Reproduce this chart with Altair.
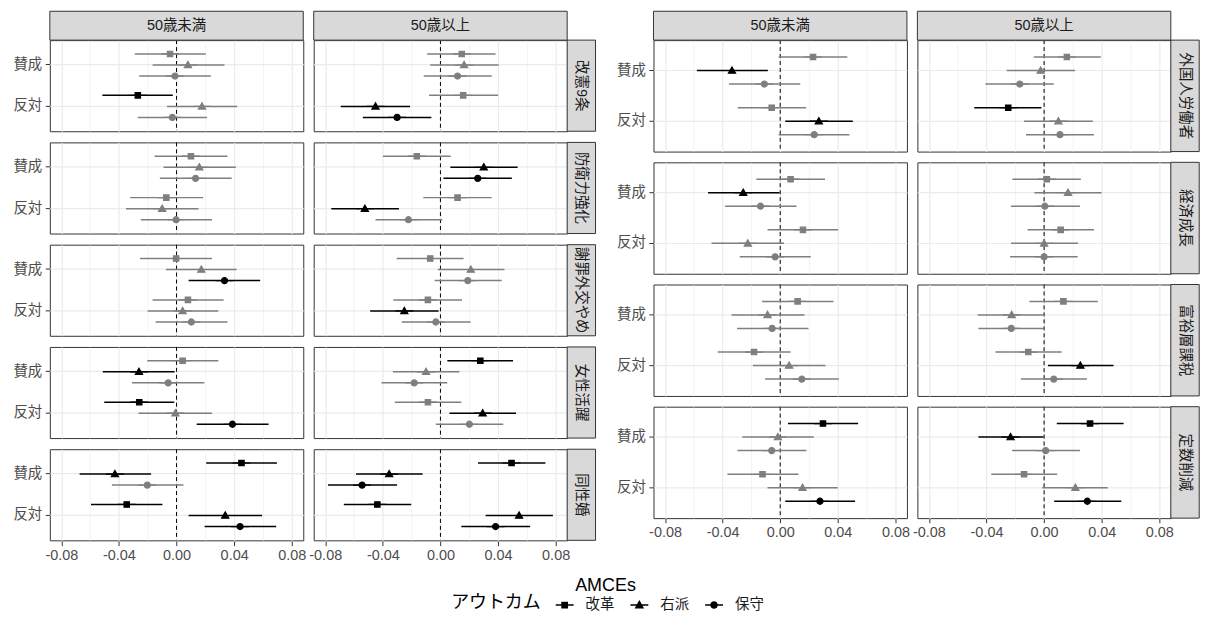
import altair as alt
import pandas as pd

FONT = "Liberation Sans, 'Noto Sans CJK JP', sans-serif"

ages = ["50歳未満", "50歳以上"]
levels = ["賛成", "反対"]
outcomes = ["改革", "右派", "保守"]
left_topics = ["改憲9条", "防衛力強化", "謝罪外交やめ", "女性活躍", "同性婚"]
right_topics = ["外国人労働者", "経済成長", "富裕層課税", "定数削減"]
x_ticks = [-0.08, -0.06, -0.04, -0.02, 0.0, 0.02, 0.04, 0.06, 0.08]
x_domain = [-0.088, 0.088]
x_title = "AMCEs"
legend_title = "アウトカム"

# order inside each list: age (50歳未満, 50歳以上) x level (賛成, 反対) x outcome (改革, 右派, 保守)
est_kaiken = [-0.0045, 0.0079, -0.0011, -0.0269, 0.0177, -0.0029,
              0.0148, 0.0164, 0.0119, 0.0158, -0.0451, -0.0301]
lo_kaiken = [-0.0290, -0.0166, -0.0259, -0.0515, -0.0066, -0.0269,
             -0.0092, -0.0071, -0.0116, -0.0079, -0.0692, -0.0539]
hi_kaiken = [0.0203, 0.0333, 0.0238, -0.0026, 0.0422, 0.0211,
             0.0383, 0.0404, 0.0356, 0.0401, -0.0211, -0.0063]

est_boei = [0.0100, 0.0158, 0.0132, -0.0071, -0.0100, -0.0003,
            -0.0164, 0.0301, 0.0259, 0.0119, -0.0525, -0.0222]
lo_boei = [-0.0153, -0.0090, -0.0116, -0.0322, -0.0351, -0.0248,
           -0.0399, 0.0069, 0.0021, -0.0119, -0.0758, -0.0451]
hi_boei = [0.0354, 0.0412, 0.0383, 0.0185, 0.0153, 0.0246,
           0.0071, 0.0536, 0.0496, 0.0356, -0.0288, 0.0013]

est_shazai = [-0.0003, 0.0172, 0.0333, 0.0079, 0.0042, 0.0103,
              -0.0071, 0.0211, 0.0190, -0.0087, -0.0251, -0.0032]
lo_shazai = [-0.0253, -0.0074, 0.0084, -0.0166, -0.0201, -0.0145,
             -0.0304, -0.0018, -0.0040, -0.0327, -0.0488, -0.0269]
hi_shazai = [0.0246, 0.0417, 0.0581, 0.0327, 0.0290, 0.0354,
             0.0161, 0.0444, 0.0425, 0.0150, -0.0013, 0.0209]

est_josei = [0.0042, -0.0261, -0.0058, -0.0259, -0.0008, 0.0388,
             0.0277, -0.0100, -0.0182, -0.0087, 0.0293, 0.0201]
lo_josei = [-0.0203, -0.0512, -0.0309, -0.0502, -0.0264, 0.0140,
            0.0048, -0.0330, -0.0409, -0.0317, 0.0063, -0.0032]
hi_josei = [0.0290, -0.0013, 0.0193, -0.0016, 0.0246, 0.0639,
            0.0504, 0.0132, 0.0048, 0.0145, 0.0525, 0.0436]

est_doseikon = [0.0451, -0.0428, -0.0203, -0.0346, 0.0338, 0.0441,
                0.0494, -0.0356, -0.0544, -0.0438, 0.0546, 0.0383]
lo_doseikon = [0.0206, -0.0673, -0.0449, -0.0594, 0.0084, 0.0195,
               0.0261, -0.0586, -0.0781, -0.0671, 0.0314, 0.0145]
hi_doseikon = [0.0697, -0.0177, 0.0048, -0.0098, 0.0594, 0.0692,
               0.0729, -0.0124, -0.0301, -0.0203, 0.0781, 0.0623]

est_gaikoku = [0.0228, -0.0335, -0.0110, -0.0059, 0.0268, 0.0236,
               0.0158, -0.0024, -0.0169, -0.0249, 0.0099, 0.0110]
lo_gaikoku = [-0.0011, -0.0579, -0.0356, -0.0295, 0.0035, -0.0011,
              -0.0072, -0.0260, -0.0407, -0.0485, -0.0139, -0.0126]
hi_gaikoku = [0.0466, -0.0086, 0.0139, 0.0180, 0.0504, 0.0480,
              0.0394, 0.0214, 0.0067, -0.0019, 0.0338, 0.0346]

est_keizai = [0.0072, -0.0257, -0.0137, 0.0158, -0.0225, -0.0035,
              0.0019, 0.0166, 0.0005, 0.0115, 0.0000, 0.0000]
lo_keizai = [-0.0166, -0.0501, -0.0383, -0.0088, -0.0477, -0.0281,
             -0.0220, -0.0067, -0.0230, -0.0115, -0.0230, -0.0236]
hi_keizai = [0.0311, -0.0005, 0.0113, 0.0402, 0.0027, 0.0212,
             0.0255, 0.0399, 0.0249, 0.0346, 0.0236, 0.0233]

est_fuyu = [0.0121, -0.0088, -0.0056, -0.0182, 0.0062, 0.0150,
            0.0134, -0.0225, -0.0228, -0.0110, 0.0252, 0.0067]
lo_fuyu = [-0.0126, -0.0338, -0.0300, -0.0434, -0.0190, -0.0105,
           -0.0102, -0.0461, -0.0456, -0.0338, 0.0027, -0.0161]
hi_fuyu = [0.0370, 0.0169, 0.0196, 0.0072, 0.0314, 0.0407,
           0.0373, 0.0003, 0.0002, 0.0121, 0.0482, 0.0297]

est_teisu = [0.0297, -0.0016, -0.0059, -0.0123, 0.0155, 0.0276,
             0.0319, -0.0233, 0.0011, -0.0139, 0.0217, 0.0300]
lo_teisu = [0.0054, -0.0263, -0.0297, -0.0367, -0.0088, 0.0035,
            0.0088, -0.0456, -0.0222, -0.0367, -0.0013, 0.0070]
hi_teisu = [0.0541, 0.0233, 0.0182, 0.0126, 0.0399, 0.0520,
            0.0552, -0.0005, 0.0249, 0.0091, 0.0442, 0.0536]

topic_values = {
    "改憲9条": (est_kaiken, lo_kaiken, hi_kaiken),
    "防衛力強化": (est_boei, lo_boei, hi_boei),
    "謝罪外交やめ": (est_shazai, lo_shazai, hi_shazai),
    "女性活躍": (est_josei, lo_josei, hi_josei),
    "同性婚": (est_doseikon, lo_doseikon, hi_doseikon),
    "外国人労働者": (est_gaikoku, lo_gaikoku, hi_gaikoku),
    "経済成長": (est_keizai, lo_keizai, hi_keizai),
    "富裕層課税": (est_fuyu, lo_fuyu, hi_fuyu),
    "定数削減": (est_teisu, lo_teisu, hi_teisu),
}

rows = []
for topic, (e, l, h) in topic_values.items():
    i = 0
    for age in ages:
        for level in levels:
            for oc in outcomes:
                rows.append({"topic": topic, "age": age, "level": level,
                             "outcome": oc, "est": e[i], "lo": l[i], "hi": h[i]})
                i += 1
df = pd.DataFrame(rows)

# ---- styling ----
COL_GAP = 10
ROW_GAP = 10.7
STRIP_H = 29
STRIP_W = 28.5
PANEL_W = 254.5
LEFT_H = 91.5
RIGHT_H = 111.9
STRIP_FILL = "#D9D9D9"
BORDER = "#333333"

shape_paths = [
    "M-0.3,-0.3L0.3,-0.3L0.3,0.3L-0.3,0.3Z M-1,0L1,0",
    "M0,-0.4L0.4,0.3L-0.4,0.3Z M-1,0L1,0",
    "M0.34,0A0.34,0.34,0,1,1,-0.34,0A0.34,0.34,0,1,1,0.34,0Z M-1,0L1,0",
]
sig_scale = alt.Scale(domain=["sig", "ns"], range=["#000000", "#7F7F7F"])
x_scale = alt.Scale(domain=x_domain, nice=False, zero=False)
minor_test = "round(datum.value*100) % 4 != 0"

x_axis = alt.Axis(
    title=None, values=x_ticks, domain=False, grid=True,
    gridColor="#EBEBEB",
    gridWidth={"condition": {"test": minor_test, "value": 0.6}, "value": 1.2},
    tickOpacity={"condition": {"test": minor_test, "value": 0}, "value": 1},
    labelExpr="round(datum.value*100) % 4 == 0 ? (datum.value < 0 ? '-' : '') + format(abs(datum.value), '.2f') : ''",
    labelFlush=False, labelOverlap=False, labelPadding=3,
)
y_axis = alt.Axis(
    title=None, domain=False, grid=True, gridColor="#EBEBEB", gridWidth=1.2,
    bandPosition=0.5, labelPadding=3.5,
)

shape_enc = alt.Shape(
    "outcome:N",
    scale=alt.Scale(domain=outcomes, range=shape_paths),
    legend=alt.Legend(
        title=legend_title, orient="none", legendX=403, legendY=557,
        direction="horizontal", columns=3, titleOrient="left",
        titleAnchor="middle", titleBaseline="middle", titlePadding=14, symbolSize=324,
        symbolFillColor="black", symbolStrokeColor="black",
        symbolStrokeWidth=1.4, labelOffset=11, columnPadding=13,
    ),
)

first_row = (alt.datum.level == levels[0]) & (alt.datum.outcome == outcomes[0])
no_header = alt.Header(labels=False, title=None, labelPadding=0, titlePadding=0)


def block(topics, h):
    data = df[df["topic"].isin(topics)]
    y_enc = alt.Y("level:N", sort=levels,
                  scale=alt.Scale(domain=levels, paddingOuter=0.1, paddingInner=0),
                  axis=y_axis)
    yo_enc = alt.YOffset("outcome:N", sort=outcomes,
                         scale=alt.Scale(domain=outcomes, paddingOuter=0.375, paddingInner=0))
    base = alt.Chart().transform_calculate(
        sig="datum.lo > 0 || datum.hi < 0 ? 'sig' : 'ns'", zero="0"
    )
    vline = base.transform_filter(first_row).mark_rule(
        color="black", strokeDash=[4, 3], strokeWidth=1
    ).encode(x=alt.X("zero:Q", scale=x_scale, axis=x_axis))
    bars = base.mark_rule(strokeWidth=1.5).encode(
        x=alt.X("lo:Q", scale=x_scale, axis=x_axis),
        x2="hi:Q",
        y=y_enc, yOffset=yo_enc,
        color=alt.Color("sig:N", scale=sig_scale, legend=None),
    )
    pts = base.mark_point(filled=True, size=324, strokeWidth=1.2, opacity=1).encode(
        x=alt.X("est:Q", scale=x_scale, axis=x_axis),
        y=y_enc, yOffset=yo_enc,
        shape=shape_enc,
        fill=alt.Fill("sig:N", scale=sig_scale, legend=None),
        stroke=alt.Stroke("sig:N", scale=sig_scale, legend=None),
    )
    top_cells = first_row & (alt.datum.topic == topics[0])
    col_rect = base.transform_filter(top_cells).mark_rect(
        fill=STRIP_FILL, stroke=BORDER, strokeWidth=1
    ).encode(x=alt.value(0), x2=alt.value(PANEL_W), y=alt.value(-STRIP_H), y2=alt.value(0))
    col_text = base.transform_filter(top_cells).mark_text(
        font=FONT, fontSize=14.5, color="#1A1A1A", baseline="middle", align="center"
    ).encode(text="age:N", x=alt.value(PANEL_W / 2), y=alt.value(-STRIP_H / 2))
    right_cells = first_row & (alt.datum.age == ages[1])
    row_rect = base.transform_filter(right_cells).mark_rect(
        fill=STRIP_FILL, stroke=BORDER, strokeWidth=1
    ).encode(x=alt.value(PANEL_W), x2=alt.value(PANEL_W + STRIP_W), y=alt.value(0), y2=alt.value(h))
    row_text = base.transform_filter(right_cells).mark_text(
        font=FONT, fontSize=14.5, color="#1A1A1A", baseline="middle", align="center", angle=90
    ).encode(text="topic:N", x=alt.value(PANEL_W + STRIP_W / 2), y=alt.value(h / 2))

    layered = alt.layer(vline, bars, pts, col_rect, col_text, row_rect, row_text, data=data).properties(
        width=PANEL_W, height=h
    )
    return layered.facet(
        row=alt.Row("topic:N", sort=topics, header=no_header),
        column=alt.Column("age:N", sort=ages, header=no_header),
        spacing={"row": ROW_GAP, "column": COL_GAP},
        bounds="flush",
    )


top = alt.hconcat(block(left_topics, LEFT_H), block(right_topics, RIGHT_H), spacing=19.2).resolve_scale(
    yOffset="independent"
)

footer = alt.Chart(pd.DataFrame({"t": [x_title]})).mark_text(
    font=FONT, fontSize=18, color="black", baseline="middle", align="center"
).encode(text="t:N", x=alt.value(558), y=alt.value(10)).properties(
    width=1000, height=20, view=alt.ViewBackground(stroke="transparent", fill="transparent")
)

chart = alt.vconcat(top, footer, spacing=12).resolve_scale(yOffset="independent").properties(
    padding={"left": 4, "top": 1, "right": 0, "bottom": 0},
    background="white",
).configure_view(
    stroke=BORDER, strokeWidth=1
).configure_axis(
    labelFont=FONT, labelFontSize=14.5, labelColor="#4D4D4D",
    tickColor=BORDER, tickSize=4.6, tickWidth=1,
).configure_legend(
    labelFont=FONT, titleFont=FONT, labelFontSize=14.5, titleFontSize=18,
    titleFontWeight="normal", labelColor="#1A1A1A", titleColor="#000000",
)

chart.save("out.html", embed_options={"renderer": "svg", "actions": False})
